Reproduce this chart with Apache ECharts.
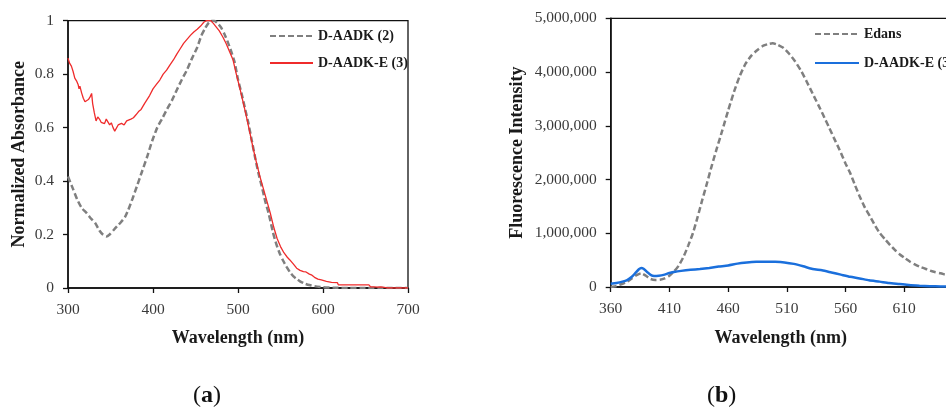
<!DOCTYPE html>
<html>
<head>
<meta charset="utf-8">
<script src="https://cdn.jsdelivr.net/npm/echarts@6/dist/echarts.min.js"></script>
<style>
html,body{margin:0;padding:0;background:#fff;}
#chart{width:946px;height:407px;}
</style>
</head>
<body>
<div id="chart"></div>
<script>
// ---------- Panel (a): Normalized absorbance ----------
const absTicksX = [300, 400, 500, 600, 700];
const absTicksY = [0, 0.2, 0.4, 0.6, 0.8, 1];

const daadkWl = [300,306,311,316,322,327,332,337,341,345,349,354,358,362,367,371,376,381,387,393,399,405,411,416,422,428,434,440,446,452,457,461,465,469,472,476,480,484,488,492,496,500,504,508,512,516,520,524,528,532,536,541,545,549,553,557,561,565,569,573,578,584,590,600,615,630,650,700];
const daadkAbs = [0.417,0.37,0.33,0.30,0.28,0.26,0.243,0.215,0.20,0.193,0.20,0.218,0.232,0.245,0.265,0.293,0.335,0.38,0.435,0.49,0.55,0.60,0.635,0.666,0.70,0.741,0.78,0.816,0.86,0.90,0.945,0.97,0.99,1.0,1.0,0.99,0.975,0.95,0.92,0.885,0.845,0.78,0.73,0.675,0.62,0.555,0.49,0.43,0.38,0.325,0.28,0.21,0.165,0.13,0.103,0.08,0.06,0.044,0.034,0.025,0.017,0.011,0.007,0.003,0.001,0,0,0];

const daadkeWl = [300,302,304,306,308,310,312,313,314,316,318,320,322,324,326,327.8,329,331,333,335,337,339,341,343,345,347,349,351,353,355,357,359,361,363,366,369,371,374,377,380,383,386,390,393,396,400,404,408,412,416,420,424,428,432,436,440,444,448,452,456,460,463,468,471,474,478,482,486,490,494,498,502,506,510,514,518,522,526,530,534,538,542,546,550,554,558,561,565,569,573,577,580,582,584,587,590,594,598,604,610,617,618,650,652,654,656,660,662,664,668,670,672,676,700];
const daadkeAbs = [0.86,0.84,0.83,0.81,0.785,0.775,0.76,0.745,0.755,0.73,0.71,0.697,0.70,0.705,0.715,0.728,0.69,0.655,0.625,0.64,0.632,0.62,0.625,0.615,0.632,0.628,0.61,0.618,0.60,0.587,0.592,0.61,0.605,0.616,0.61,0.625,0.622,0.632,0.637,0.648,0.66,0.668,0.69,0.705,0.72,0.745,0.762,0.778,0.80,0.815,0.835,0.853,0.875,0.895,0.915,0.93,0.945,0.958,0.968,0.98,0.995,1.0,1.0,0.99,0.978,0.962,0.94,0.915,0.885,0.855,0.8,0.75,0.695,0.64,0.58,0.52,0.465,0.415,0.37,0.325,0.28,0.228,0.185,0.155,0.132,0.115,0.105,0.09,0.074,0.066,0.061,0.06,0.066,0.052,0.048,0.04,0.033,0.03,0.025,0.021,0.02,0.012,0.012,0.006,0.012,0.004,0.004,0.01,0.003,0.004,0.011,0.002,0,0];

// ---------- Panel (b): Fluorescence intensity ----------
const fluTicksX = [360, 410, 460, 510, 560, 610, 660];
const fluTicksY = [0, 1000000, 2000000, 3000000, 4000000, 5000000];

const edansWl = [360,365,370,374,378,382,386,390,394,398,402,406,410,414,418,422,426,430,434,438,442,446,450,455,460,465,470,475,480,485,490,495,498,502,507,512,517,522,527,532,537,541,546,550,555,560,564,568,572,576,581,585,589,594,598,602,606,611,615,619,623,628,632,636,641,646,660];
const edansInt = [0,20000,60000,100000,160000,220000,255000,210000,150000,130000,135000,160000,210000,290000,400000,560000,770000,1000000,1300000,1620000,1930000,2250000,2550000,2910000,3280000,3630000,3930000,4160000,4310000,4410000,4490000,4525000,4535000,4510000,4450000,4340000,4200000,4030000,3820000,3600000,3380000,3200000,2970000,2780000,2550000,2300000,2120000,1900000,1690000,1500000,1310000,1150000,1010000,880000,780000,690000,610000,530000,470000,420000,380000,340000,305000,280000,255000,225000,150000];

const daadkeFWl = [360,365,370,374,378,381,384,386,388,391,394,397,401,405,410,415,420,428,436,444,452,460,468,476,484,492,500,508,516,524,532,540,548,556,564,572,580,589,597,606,614,623,632,641,660];
const daadkeFInt = [60000,75000,100000,130000,190000,260000,330000,355000,340000,280000,225000,205000,210000,225000,260000,285000,300000,320000,335000,355000,380000,400000,435000,455000,468000,472000,470000,458000,430000,385000,335000,310000,270000,230000,190000,160000,125000,100000,75000,56000,38000,25000,15000,10000,3000];

const zip = (xs, ys) => xs.map((x, i) => [x, ys[i]]);

const serif = 'Liberation Serif';
const tickLabel = {fontFamily: serif, fontSize: 15.5, color: '#3a3a3a', margin: 14};
const nameStyle = {fontFamily: serif, fontSize: 18, fontWeight: 'bold', color: '#1a1a1a'};
const axisLine = {show: true, onZero: false, lineStyle: {color: '#111', width: 1.5}};
const axisTick = {show: true, inside: false, length: 5, lineStyle: {color: '#111', width: 1.3}};
const legendText = {fontFamily: serif, fontSize: 14, fontWeight: 'bold', color: '#1a1a1a'};

const chart = echarts.init(document.getElementById('chart'), null, {renderer: 'canvas'});
chart.setOption({
  backgroundColor: '#fff',
  animation: false,
  grid: [
    {left: 68, top: 20.7, width: 340, height: 267.3, show: true, borderColor: '#111', borderWidth: 1.3,
     backgroundColor: 'transparent', outerBoundsMode: 'none', containLabel: false},
    {left: 610.7, top: 18.3, width: 352.2, height: 268.7, show: true, borderColor: '#111', borderWidth: 1.3,
     backgroundColor: 'transparent', outerBoundsMode: 'none', containLabel: false}
  ],
  legend: [
    {
      data: ['D-AADK (2)', 'D-AADK-E (3)'],
      left: 264, top: 24, orient: 'vertical', icon: 'inherit',
      itemWidth: 43, itemHeight: 14, itemGap: 13,
      itemStyle: {opacity: 0},
      textStyle: legendText, selectedMode: false
    },
    {
      data: ['Edans', 'D-AADK-E (3) '],
      left: 809, top: 22, orient: 'vertical', icon: 'inherit',
      itemWidth: 44, itemHeight: 14, itemGap: 15,
      itemStyle: {opacity: 0},
      formatter: n => n.trim(),
      textStyle: legendText, selectedMode: false
    }
  ],
  xAxis: [
    {
      gridIndex: 0, type: 'value', min: absTicksX[0], max: absTicksX[absTicksX.length - 1],
      interval: absTicksX[1] - absTicksX[0],
      name: 'Wavelength (nm)', nameLocation: 'middle', nameGap: 41, nameTextStyle: nameStyle,
      axisLine, axisTick, axisLabel: tickLabel, splitLine: {show: false}
    },
    {
      gridIndex: 1, type: 'value', min: fluTicksX[0], max: fluTicksX[fluTicksX.length - 1],
      interval: fluTicksX[1] - fluTicksX[0],
      name: 'Wavelength (nm)', nameLocation: 'middle', nameGap: 42,
      nameTextStyle: Object.assign({}, nameStyle, {padding: [0, 12, 0, 0]}),
      axisLine, axisTick, axisLabel: tickLabel, splitLine: {show: false}
    }
  ],
  yAxis: [
    {
      gridIndex: 0, type: 'value', min: absTicksY[0], max: absTicksY[absTicksY.length - 1],
      interval: absTicksY[1] - absTicksY[0],
      name: 'Normalized Absorbance', nameLocation: 'middle', nameGap: 40, nameTextStyle: nameStyle,
      axisLine, axisTick, axisLabel: Object.assign({}, tickLabel, {formatter: v => String(+v.toFixed(1))}),
      splitLine: {show: false}
    },
    {
      gridIndex: 1, type: 'value', min: fluTicksY[0], max: fluTicksY[fluTicksY.length - 1],
      interval: fluTicksY[1] - fluTicksY[0],
      name: 'Fluorescence Intensity', nameLocation: 'middle', nameGap: 84, nameTextStyle: nameStyle,
      axisLine, axisTick, axisLabel: Object.assign({}, tickLabel, {formatter: v => v.toLocaleString('en-US')}),
      splitLine: {show: false}
    }
  ],
  series: [
    {
      name: 'D-AADK (2)', type: 'line', xAxisIndex: 0, yAxisIndex: 0,
      data: zip(daadkWl, daadkAbs), showSymbol: false, symbol: 'none', smooth: 0.2,
      lineStyle: {color: '#7f7f7f', width: 2.5, type: [6, 3]}, itemStyle: {color: '#7f7f7f'}, z: 2
    },
    {
      name: 'D-AADK-E (3)', type: 'line', xAxisIndex: 0, yAxisIndex: 0,
      data: zip(daadkeWl, daadkeAbs), showSymbol: false, symbol: 'none',
      lineStyle: {color: '#ef2b2b', width: 1.3}, itemStyle: {color: '#ef2b2b'}, z: 3
    },
    {
      name: 'Edans', type: 'line', xAxisIndex: 1, yAxisIndex: 1,
      data: zip(edansWl, edansInt), showSymbol: false, symbol: 'none', smooth: 0.2,
      lineStyle: {color: '#7f7f7f', width: 2.5, type: [6, 3]}, itemStyle: {color: '#7f7f7f'}, z: 2
    },
    {
      name: 'D-AADK-E (3) ', type: 'line', xAxisIndex: 1, yAxisIndex: 1,
      data: zip(daadkeFWl, daadkeFInt), showSymbol: false, symbol: 'none', smooth: 0.2,
      lineStyle: {color: '#1a6fdc', width: 2.5}, itemStyle: {color: '#1a6fdc'}, z: 3
    }
  ],
  graphic: [
    {
      type: 'text', left: 193, top: 384,
      style: {
        text: '{p|(}{b|a}{p|)}',
        rich: {
          p: {fontFamily: serif, fontSize: 24, fill: '#111'},
          b: {fontFamily: serif, fontSize: 24, fontWeight: 'bold', fill: '#111'}
        }
      }
    },
    {
      type: 'text', left: 707, top: 384,
      style: {
        text: '{p|(}{b|b}{p|)}',
        rich: {
          p: {fontFamily: serif, fontSize: 24, fill: '#111'},
          b: {fontFamily: serif, fontSize: 24, fontWeight: 'bold', fill: '#111'}
        }
      }
    }
  ]
});
</script>
</body>
</html>
